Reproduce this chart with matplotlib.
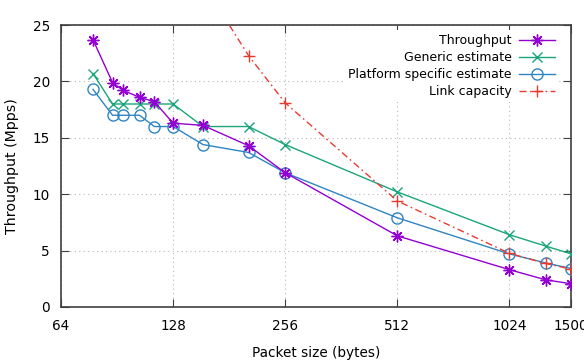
import matplotlib
matplotlib.use("Agg")
import matplotlib.pyplot as plt
from matplotlib.ticker import FixedLocator, NullLocator

# Data
packet_sizes = [78, 88, 94, 104, 114, 128, 154, 204, 256, 512, 1024, 1280, 1500]
throughput = [23.7, 19.9, 19.2, 18.6, 18.2, 16.3, 16.1, 14.3, 11.9, 6.3, 3.3, 2.4, 2.05]
generic_est = [20.7, 18.0, 18.0, 18.0, 18.0, 18.0, 16.0, 16.0, 14.4, 10.2, 6.4, 5.4, 4.7]
platform_est = [19.3, 17.0, 17.0, 17.0, 16.0, 16.0, 14.4, 13.7, 11.9, 7.9, 4.7, 3.9, 3.4]
link_sizes = [154, 204, 256, 512, 1024, 1280, 1500]
link_capacity = [28.7, 22.3, 18.1, 9.4, 4.75, 3.85, 3.35]

x_ticks = [64, 128, 256, 512, 1024, 1500]
x_tick_labels = ["64", "128", "256", "512", "1024", "1500"]
y_ticks = [0, 5, 10, 15, 20, 25]

plt.rcParams['font.family'] = ['DejaVu Sans']
fig = plt.figure(figsize=(5.84, 3.64), dpi=100)
ax = fig.add_axes([0.1045, 0.157, 0.8735, 0.774])

c_purple = "#9400D3"
c_green = "#1aa57a"
c_blue = "#2f85c4"
c_red = "#ea3a30"

ax.plot(packet_sizes, throughput, color=c_purple, lw=1, marker=(8, 2, 0), ms=8.5,
        mew=1, label="Throughput", zorder=4)
ax.plot(packet_sizes, generic_est, color=c_green, lw=1, marker="x", ms=7.5,
        mew=1, label="Generic estimate", zorder=3)
ax.plot(packet_sizes, platform_est, color=c_blue, lw=1, marker="o", ms=8,
        mfc="none", mew=1, label="Platform specific estimate", zorder=3)
ax.plot(link_sizes, link_capacity, color=c_red, lw=1, marker="+", ms=8.5,
        mew=1, dashes=(5, 2.5, 1.2, 2.5), label="Link capacity", zorder=3)

ax.set_xscale("log", base=2)
ax.set_xlim(64, 1500)
ax.set_ylim(0, 25)
ax.xaxis.set_major_locator(FixedLocator(x_ticks))
ax.set_xticklabels(x_tick_labels)
ax.xaxis.set_minor_locator(NullLocator())
ax.set_yticks(y_ticks)

ax.grid(True, which="major", color="#b8b8b8", linestyle=(0, (1, 3)), lw=0.8)
ax.set_axisbelow(True)
ax.tick_params(direction="in", length=6, top=True, right=True, labelsize=9.8,
               color="#404040")
ax.tick_params(axis="y", pad=8)
ax.tick_params(axis="x", pad=9)
for s in ax.spines.values():
    s.set_color("#404040")
    s.set_linewidth(1.2)

ax.set_xlabel("Packet size (bytes)", fontsize=9.8, labelpad=9)
ax.set_ylabel("Throughput (Mpps)", fontsize=10.2, labelpad=10)

leg = ax.legend(loc="upper right", bbox_to_anchor=(0.976, 0.982), markerfirst=False,
                frameon=True, fontsize=9, handlelength=2.9, handletextpad=0.6,
                labelspacing=0.32, borderaxespad=0.0, borderpad=0.3)
leg.get_frame().set_facecolor("white")
leg.get_frame().set_edgecolor("none")
leg.get_frame().set_alpha(1.0)

fig.savefig("out.png", dpi=100)
